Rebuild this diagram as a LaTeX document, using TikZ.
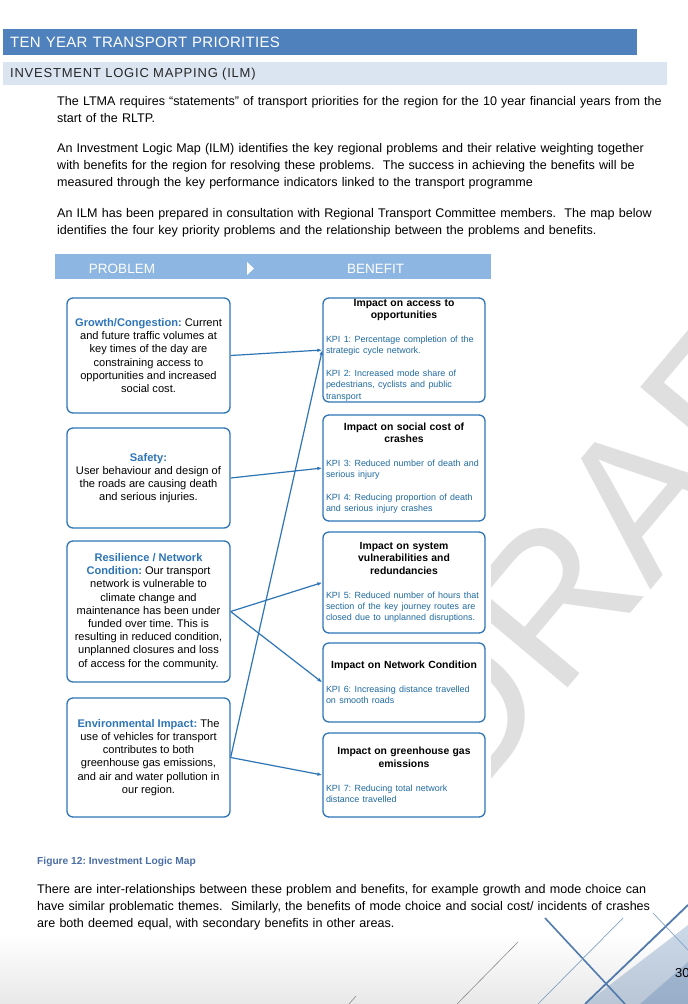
\documentclass[tikz,border=0pt]{standalone}
\usepackage{fontspec}
\setmainfont{Liberation Sans}
\frenchspacing
\usetikzlibrary{arrows.meta}
\definecolor{barblue}{RGB}{79,129,189}
\definecolor{barlight}{RGB}{219,229,241}
\definecolor{headblue}{RGB}{141,182,226}
\definecolor{boxblue}{RGB}{46,117,182}
\definecolor{kpiblue}{RGB}{31,106,160}
\definecolor{capblue}{RGB}{74,110,165}
\definecolor{draftgrey}{RGB}{223,223,223}
\definecolor{decoblue}{RGB}{80,122,172}
\newcommand{\lab}[1]{{\color{boxblue}\bfseries #1}}
\newcommand{\bentitle}[1]{{\centering\bfseries\fontsize{10.4}{12.4}\selectfont #1\par}\vspace{12.5pt}}
\newcommand{\kpi}[1]{{\color{kpiblue}\fontsize{8.95}{11.3}\selectfont #1\par}}
\newcommand{\kpigap}{\vspace{11.5pt}}
\begin{document}
\begin{tikzpicture}[x=1pt, y=-1pt,
		probbox/.style={draw=boxblue, line width=1.3pt, rounded corners=6pt, fill=white, align=center, minimum width=163pt, inner sep=2pt, font=\fontsize{11.1}{13.2}\selectfont},
		benbox/.style={draw=boxblue, line width=1.3pt, rounded corners=6pt, fill=white, text width=156pt, inner xsep=3pt, inner ysep=0pt},
		bodytext/.style={anchor=base west, inner sep=0pt, text width=640pt, align=left, font=\fontsize{12.55}{17}\selectfont},
		hdtext/.style={anchor=base, inner sep=0pt, text=white, font=\fontsize{13.5}{15}\selectfont},
		link/.style={draw=boxblue, line width=1.2pt, -{Latex[length=5pt,width=3.6pt]}}]
	\useasboundingbox (0,0) rectangle (688,1004);
	\shade [top color=white, bottom color=black!9] (0,935) rectangle (688,1004);
	\fill [decoblue, opacity=0.3] (585,1004) -- (688,925) -- (688,1004) -- cycle;
	\fill [decoblue, opacity=0.3] (640,1004) -- (688,962) -- (688,1004) -- cycle;
	\draw [black!45, line width=0.6pt] (457,1004) -- (518,942);
	\draw [black!45, line width=0.6pt] (349,1004) -- (356,996);
	\draw [decoblue, line width=1.6pt] (545,918) -- (625,1004);
	\draw [decoblue!70, line width=0.7pt] (623,918) -- (538,1004);
	\draw [decoblue, line width=1.8pt] (688,905) -- (585,1004);
	\draw [decoblue!70, line width=0.7pt] (653,913) -- (688,950);
	\node (draft) [rotate=50, text=draftgrey, font=\fontsize{200}{200}\selectfont] at (626,512) {DRAFT};
	\fill [white] (55,254) rectangle (491,830);

	\node (ttl) [anchor=north west, fill=barblue, text=white, minimum height=26pt, text width=620pt, inner xsep=7pt, align=left, font=\fontsize{15}{17}\selectfont\addfontfeatures{LetterSpace=2}] at (3,29) {TEN YEAR TRANSPORT PRIORITIES};
	\node (sub) [anchor=north west, fill=barlight, text=black!85, minimum height=23pt, text width=650pt, inner xsep=7pt, align=left, font=\fontsize{13}{15}\selectfont\addfontfeatures{LetterSpace=6}] at (3,62) {INVESTMENT LOGIC MAPPING (ILM)};
	\node (para1) [bodytext] at (57,105) {The LTMA requires “statements” of transport priorities for the region for the 10 year financial years from the\\ start of the RLTP.};
	\node (para2) [bodytext] at (57,152) {An Investment Logic Map (ILM) identifies the key regional problems and their relative weighting together\\ with benefits for the region for resolving these problems. \ The success in achieving the benefits will be\\ measured through the key performance indicators linked to the transport programme};
	\node (para3) [bodytext] at (57,217) {An ILM has been prepared in consultation with Regional Transport Committee members. \ The map below\\ identifies the four key priority problems and the relationship between the problems and benefits.};

	\node (head) [fill=headblue, minimum width=436pt, minimum height=25pt, inner sep=0pt] at (273,266.5) {};
	\node (prob) [hdtext] at (122,273) {PROBLEM};
	\node (ben) [hdtext] at (375.5,273) {BENEFIT};
	\fill [white] (247,262) -- (254,268.5) -- (247,275) -- cycle;

	\node (grow) [probbox, minimum height=115pt] at (148.5,355.5) {\lab{Growth/Congestion:} Current\\ and future traffic volumes at\\ key times of the day are\\ constraining access to\\ opportunities and increased\\ social cost.};
	\node (safe) [probbox, minimum height=100pt] at (148.5,478) {\lab{Safety:}\\ User behaviour and design of\\ the roads are causing death\\ and serious injuries.};
	\node (resil) [probbox, minimum height=141pt] at (148.5,611.5) {\lab{Resilience / Network}\\ \lab{Condition:} Our transport\\ network is vulnerable to\\ climate change and\\ maintenance has been under\\ funded over time. This is\\ resulting in reduced condition,\\ unplanned closures and loss\\ of access for the community.};
	\node (env) [probbox, minimum height=119pt] at (148.5,757.5) {\lab{Environmental Impact:} The\\ use of vehicles for transport\\ contributes to both\\ greenhouse gas emissions,\\ and air and water pollution in\\ our region.};

	\node (access) [benbox, minimum height=104pt] at (404,350) {\bentitle{Impact on access to\\ opportunities}\kpi{KPI 1: Percentage completion of the\\ strategic cycle network.}\kpigap\kpi{KPI 2: Increased mode share of\\ pedestrians, cyclists and public\\ transport}};
	\node (crash) [benbox, minimum height=106pt] at (404,468) {\bentitle{Impact on social cost of\\ crashes}\kpi{KPI 3: Reduced number of death and\\ serious injury}\kpigap\kpi{KPI 4: Reducing proportion of death\\ and serious injury crashes}};
	\node (vuln) [benbox, minimum height=101pt] at (404,582.5) {\bentitle{Impact on system\\ vulnerabilities and\\ redundancies}\kpi{KPI 5: Reduced number of hours that\\ section of the key journey routes are\\ closed due to unplanned disruptions.}};
	\node (cond) [benbox, minimum height=79pt] at (404,682.5) {\bentitle{Impact on Network Condition}\kpi{KPI 6: Increasing distance travelled\\ on smooth roads}};
	\node (ghg) [benbox, minimum height=84pt] at (404,775) {\bentitle{Impact on greenhouse gas\\ emissions}\kpi{KPI 7: Reducing total network\\ distance travelled}};

	\draw [link] (grow.east) -- (access.west);
	\draw [link] (safe.east) -- (crash.west);
	\draw [link] (resil.east) -- (vuln.west);
	\draw [link] (resil.east) -- (cond.west);
	\draw [link] (env.east) -- (ghg.west);
	\draw [link] (env.east) -- (access.west);

	\node (cap) [anchor=base west, inner sep=0pt, text=capblue, font=\bfseries\fontsize{10.2}{12}\selectfont] at (37,864) {Figure 12: Investment Logic Map};
	\node (para4) [bodytext] at (37,893) {There are inter-relationships between these problem and benefits, for example growth and mode choice can\\ have similar problematic themes. \ Similarly, the benefits of mode choice and social cost/ incidents of crashes\\ are both deemed equal, with secondary benefits in other areas.};
	\node (page) [anchor=base west, inner sep=0pt, font=\fontsize{13}{15}\selectfont] at (675,977) {30};
\end{tikzpicture}
\end{document}
